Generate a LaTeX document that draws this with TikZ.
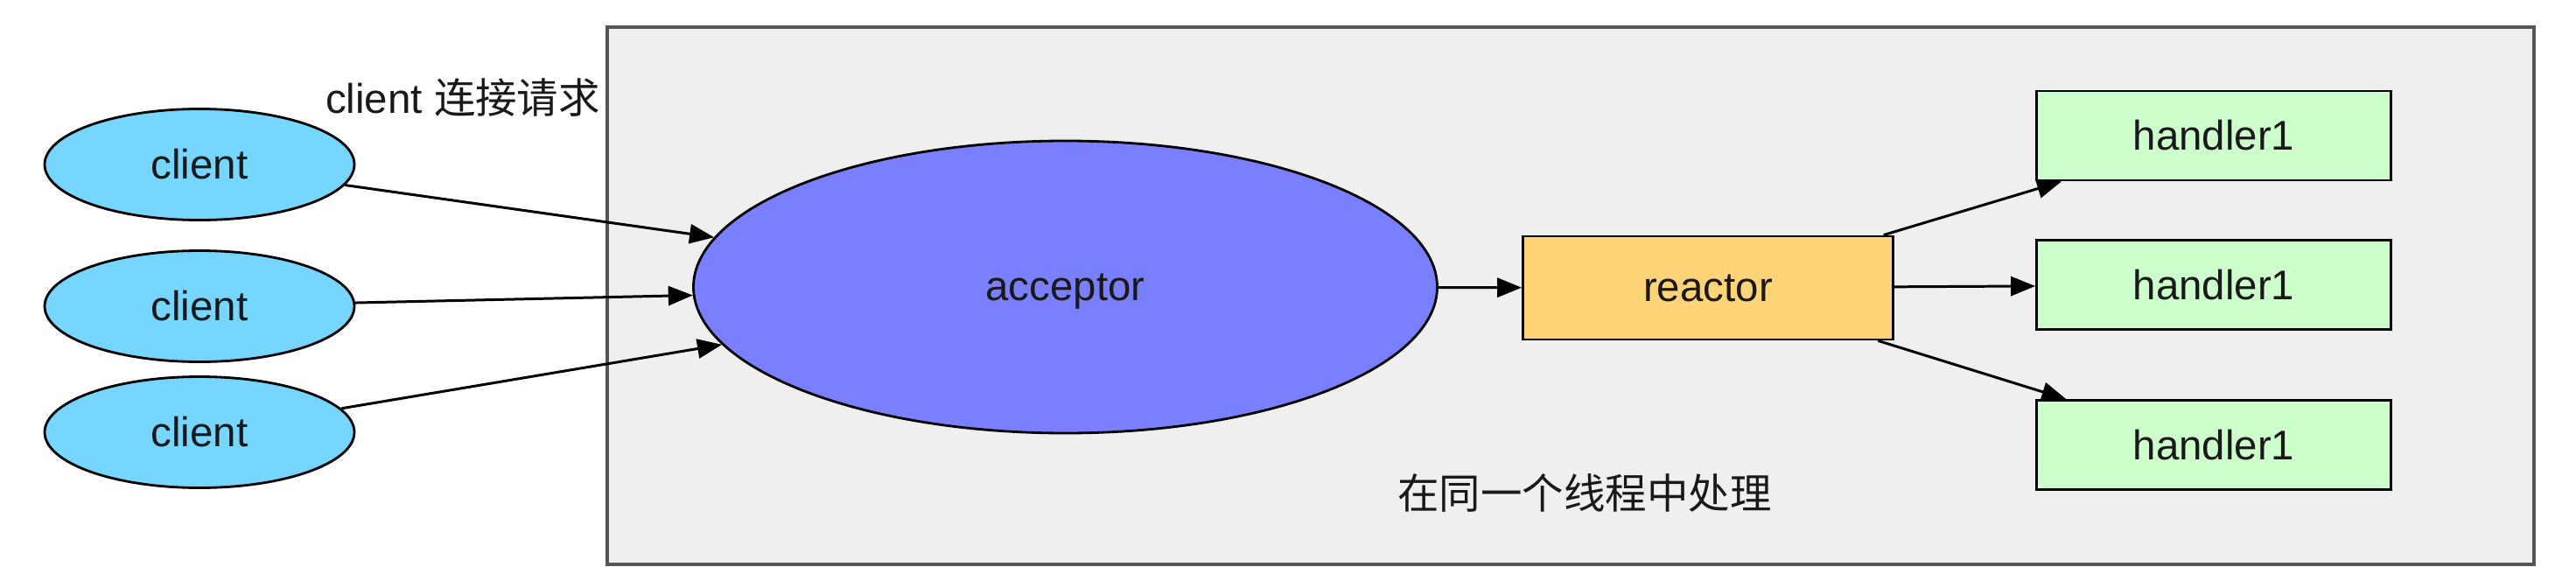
\documentclass[tikz,border=0pt]{standalone}
\usepackage{fontspec}
\setmainfont{Liberation Sans}
\newfontfamily\cjk{Noto Sans CJK SC}
\usetikzlibrary{shapes.geometric,arrows.meta,positioning}

\definecolor{clientblue}{HTML}{76D6FF}
\definecolor{accblue}{HTML}{7A7FFF}
\definecolor{reactorgold}{HTML}{FFD479}
\definecolor{handlergreen}{HTML}{CCFFCC}
\definecolor{boxgrey}{HTML}{EFEFEF}
\definecolor{boxline}{HTML}{555555}

\tikzset{
  every node/.style={font=\fontsize{13.5}{16}\selectfont, text=black!90},
  client/.style={ellipse,draw,line width=0.8pt,fill=clientblue,inner sep=0pt,minimum width=3.54cm,minimum height=1.27cm},
  acc/.style={ellipse,draw,line width=0.8pt,fill=accblue,inner sep=0pt,text depth=0pt,minimum width=8.5cm,minimum height=3.34cm},
  reactorbox/.style={rectangle,draw,line width=0.8pt,fill=reactorgold,minimum width=4.23cm,minimum height=1.18cm},
  handlerbox/.style={rectangle,draw,line width=0.8pt,fill=handlergreen,minimum width=4.05cm,minimum height=1.02cm},
  link/.style={->,line width=0.85pt,>={Triangle[length=0.28cm,width=0.22cm]}}
}

\begin{document}
\begin{tikzpicture}

\useasboundingbox (0,0) rectangle (29.44,-6.64);

% the thread box

\draw[line width=1.1pt,draw=boxline,fill=boxgrey] (6.94,-0.31) rectangle (28.96,-6.45);

\node[client] (c1) at (2.28,-1.88) {client};

\node[client] (c2) at (2.28,-3.50) {client};

\node[client] (c3) at (2.28,-4.94) {client};

\node (req) at (5.29,-1.12) {client {\cjk 连接请求}};

\node[acc] (acc) at (12.175,-3.28) {acceptor};

\node[reactorbox] (rea) at (19.52,-3.29) {reactor};

\node[handlerbox] (h1) at (25.30,-1.55) {handler1};

\node[handlerbox,below= 0.66cm of h1] (h2) {handler1};

\node[handlerbox,below= 0.78cm of h2] (h3) {handler1};

\node (same) at (18.11,-5.63) {\cjk 在同一个线程中处理};

\draw[]

  % From the clients to the acceptor

  (c1) edge[link] (acc)

  (c2) edge[link] (acc)

  (c3) edge[link] (acc)

  % From the acceptor to the reactor

  (acc) edge[link] (rea)

  % From the reactor to the handlers

  (rea) edge[link] (h1)

  (rea) edge[link] (h2)

  (rea) edge[link] (h3)

;

\end{tikzpicture}
\end{document}
